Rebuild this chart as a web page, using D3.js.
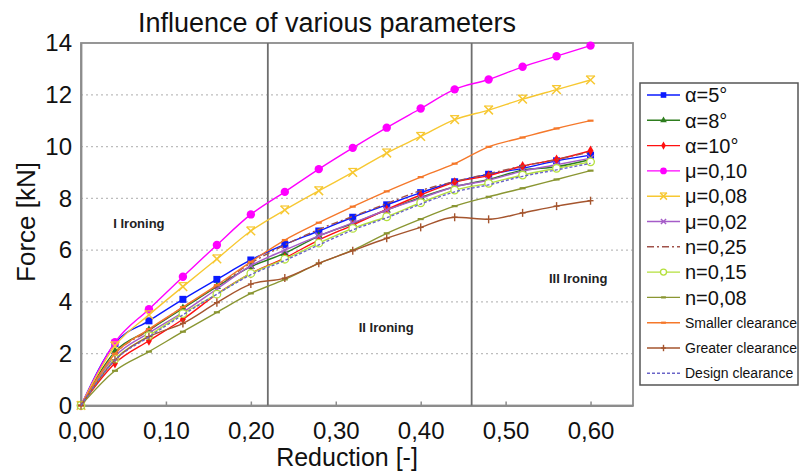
<!DOCTYPE html>
<html>
<head>
<meta charset="utf-8">
<script src="https://cdn.jsdelivr.net/npm/d3@7"></script>
<style>
  body { margin: 0; background: #fff; }
  svg { display: block; font-family: "Liberation Sans", Arial, sans-serif; }
</style>
</head>
<body>
<script>
// reduction steps (x) and force values (kN)
const reduction = [0, 0.04, 0.08, 0.12, 0.16, 0.20, 0.24, 0.28, 0.32, 0.36, 0.40, 0.44, 0.48, 0.52, 0.56, 0.60];
const alpha5   = [0, 2.40, 3.27, 4.10, 4.87, 5.62, 6.22, 6.74, 7.27, 7.75, 8.22, 8.64, 8.93, 9.16, 9.45, 9.67];
const alpha8   = [0, 2.08, 2.91, 3.75, 4.59, 5.36, 5.88, 6.54, 7.03, 7.55, 8.04, 8.45, 8.73, 9.09, 9.22, 9.50];
const alpha10  = [0, 1.63, 2.50, 3.33, 4.30, 5.10, 5.70, 6.39, 6.97, 7.57, 8.13, 8.62, 8.88, 9.25, 9.50, 9.84];
const mu10     = [0, 2.44, 3.72, 4.97, 6.20, 7.38, 8.25, 9.13, 9.95, 10.73, 11.47, 12.21, 12.59, 13.08, 13.49, 13.90];
const mu08     = [0, 2.30, 3.50, 4.59, 5.66, 6.74, 7.55, 8.29, 9.00, 9.75, 10.39, 11.04, 11.41, 11.83, 12.20, 12.57];
const mu02     = [0, 1.90, 2.80, 3.60, 4.50, 5.40, 6.00, 6.55, 7.05, 7.55, 8.00, 8.45, 8.70, 9.05, 9.30, 9.55];
const n25      = [0, 2.00, 2.90, 3.80, 4.60, 5.50, 6.20, 6.80, 7.30, 7.80, 8.30, 8.65, 8.95, 9.25, 9.50, 9.80];
const n15      = [0, 1.80, 2.70, 3.55, 4.30, 5.10, 5.65, 6.27, 6.84, 7.29, 7.83, 8.32, 8.58, 8.90, 9.16, 9.41];
const n08      = [0, 1.34, 2.08, 2.85, 3.60, 4.33, 4.87, 5.49, 6.00, 6.65, 7.20, 7.70, 8.06, 8.39, 8.73, 9.07];
const smaller  = [0, 2.00, 2.95, 3.80, 4.65, 5.55, 6.39, 7.06, 7.68, 8.27, 8.82, 9.34, 9.99, 10.35, 10.70, 11.00];
const greater  = [0, 1.76, 2.66, 3.17, 3.97, 4.69, 4.92, 5.49, 5.98, 6.46, 6.88, 7.27, 7.19, 7.44, 7.70, 7.91];
const design   = [0, 1.75, 2.65, 3.50, 4.30, 5.05, 5.60, 6.20, 6.78, 7.25, 7.78, 8.25, 8.52, 8.85, 9.10, 9.35];

const xTicks = [0, 0.1, 0.2, 0.3, 0.4, 0.5, 0.6];
const yTicks = [0, 2, 4, 6, 8, 10, 12, 14];
const stageLines = [0.22, 0.46];
const stageLabels = [
  { text: 'I Ironing', x: 0.038, y: 6.85 },
  { text: 'II Ironing', x: 0.327, y: 2.85 },
  { text: 'III Ironing', x: 0.551, y: 4.75 }
];

const series = [
  { name: 'α=5°',  values: alpha5,  color: '#0a1aff', marker: 'square', big: true },
  { name: 'α=8°',  values: alpha8,  color: '#2e7d1e', marker: 'triangle', big: true },
  { name: 'α=10°', values: alpha10, color: '#ff1010', marker: 'diamond', big: true },
  { name: 'μ=0,10', values: mu10,   color: '#ff00ff', marker: 'circle', big: true },
  { name: 'μ=0,08', values: mu08,   color: '#f7c832', marker: 'asterisk', big: true },
  { name: 'μ=0,02', values: mu02,   color: '#a55cc8', marker: 'cross', big: true },
  { name: 'n=0,25', values: n25,    color: '#a0524a', marker: 'none', dash: '7,3,2,3', big: true },
  { name: 'n=0,15', values: n15,    color: '#b4e03c', marker: 'ring', big: true },
  { name: 'n=0,08', values: n08,    color: '#8a9632', marker: 'dash', big: true },
  { name: 'Smaller clearance', values: smaller, color: '#f5782a', marker: 'dash' },
  { name: 'Greater clearance', values: greater, color: '#a5552e', marker: 'plus' },
  { name: 'Design clearance',  values: design,  color: '#6a64c8', marker: 'none', dash: '3,2' }
];

const W = 800, H = 474;
const svg = d3.select('body').append('svg').attr('width', W).attr('height', H);

const x = d3.scaleLinear().domain([0, 0.65]).range([81, 633]);
const y = d3.scaleLinear().domain([0, 14]).range([405.5, 43]);

// title
svg.append('text').attr('x', 327).attr('y', 32).attr('text-anchor', 'middle')
   .attr('font-size', 27).attr('fill', '#111').text('Influence of various parameters');

// grid
svg.append('g').selectAll('line').data(yTicks.filter(d => d > 0 && d < 14)).enter().append('line')
   .attr('x1', x(0)).attr('x2', x(0.65)).attr('y1', d => y(d)).attr('y2', d => y(d))
   .attr('stroke', '#bdbdbd').attr('stroke-width', 1.2).attr('stroke-dasharray', '2,3');

// frame
svg.append('rect').attr('x', x(0)).attr('y', y(14)).attr('width', x(0.65) - x(0)).attr('height', y(0) - y(14))
   .attr('fill', 'none').attr('stroke', '#8c8c8c').attr('stroke-width', 1.8);

// axes
const xAxis = d3.axisBottom(x).tickValues(xTicks).tickSizeInner(-4).tickSizeOuter(0).tickPadding(16)
  .tickFormat(d => d3.format('.2f')(d).replace('.', ','));
const gx = svg.append('g').attr('transform', `translate(0,${y(0)})`).call(xAxis);
gx.select('.domain').attr('stroke', '#8c8c8c').attr('stroke-width', 1.8);
gx.selectAll('.tick line').attr('stroke', '#8c8c8c').attr('stroke-width', 1.5);
gx.selectAll('text').attr('font-size', 24).attr('fill', '#111').attr('font-family', 'Liberation Sans, Arial, sans-serif');

const yAxis = d3.axisLeft(y).tickValues(yTicks).tickSize(0).tickPadding(9);
const gy = svg.append('g').attr('transform', `translate(${x(0)},0)`).call(yAxis);
gy.select('.domain').attr('stroke', '#8c8c8c').attr('stroke-width', 1.8);
gy.selectAll('text').attr('font-size', 24).attr('fill', '#111').attr('font-family', 'Liberation Sans, Arial, sans-serif');

svg.append('text').attr('x', 347).attr('y', 466).attr('text-anchor', 'middle')
   .attr('font-size', 25).attr('fill', '#111').text('Reduction [-]');
svg.append('text').attr('transform', 'translate(35,222) rotate(-90)').attr('text-anchor', 'middle')
   .attr('font-size', 26).attr('fill', '#111').text('Force [kN]');

// stage separators
svg.append('g').selectAll('line').data(stageLines).enter().append('line')
   .attr('x1', d => x(d)).attr('x2', d => x(d)).attr('y1', y(14)).attr('y2', y(0))
   .attr('stroke', '#6e6e6e').attr('stroke-width', 1.8);

svg.append('g').selectAll('text').data(stageLabels).enter().append('text')
   .attr('x', d => x(d.x)).attr('y', d => y(d.y))
   .attr('font-size', 13).attr('font-weight', 'bold').attr('fill', '#222').text(d => d.text);

// markers
function drawMarker(g, type, color, cx, cy, s) {
  s = s || 1;
  if (type === 'square') {
    g.append('rect').attr('x', cx - 3.5 * s).attr('y', cy - 3.5 * s).attr('width', 7 * s).attr('height', 7 * s).attr('fill', color);
  } else if (type === 'triangle') {
    g.append('path').attr('d', d3.symbol(d3.symbolTriangle, 30 * s * s)()).attr('transform', `translate(${cx},${cy})`).attr('fill', color);
  } else if (type === 'diamond') {
    g.append('path').attr('d', d3.symbol(d3.symbolDiamond, 30 * s * s)()).attr('transform', `translate(${cx},${cy})`).attr('fill', color);
  } else if (type === 'circle') {
    g.append('circle').attr('cx', cx).attr('cy', cy).attr('r', 4.2 * s).attr('fill', color);
  } else if (type === 'ring') {
    g.append('circle').attr('cx', cx).attr('cy', cy).attr('r', 3.8 * s).attr('fill', '#fff').attr('stroke', color).attr('stroke-width', 1.3);
  } else if (type === 'asterisk') {
    g.append('path').attr('d', d3.symbol(d3.symbolTimes, 50 * s * s)()).attr('transform', `translate(${cx},${cy})`)
     .attr('fill', 'none').attr('stroke', color).attr('stroke-width', 1.5);
    g.append('line').attr('x1', cx - 4 * s).attr('x2', cx + 4 * s).attr('y1', cy - 4 * s).attr('y2', cy - 4 * s).attr('stroke', color).attr('stroke-width', 1.2);
  } else if (type === 'cross') {
    g.append('path').attr('d', d3.symbol(d3.symbolTimes, 30 * s * s)()).attr('transform', `translate(${cx},${cy})`)
     .attr('fill', 'none').attr('stroke', color).attr('stroke-width', 1.4);
  } else if (type === 'dash') {
    g.append('line').attr('x1', cx - 3 * s).attr('x2', cx + 3 * s).attr('y1', cy).attr('y2', cy).attr('stroke', color).attr('stroke-width', 2.2);
  } else if (type === 'plus') {
    g.append('line').attr('x1', cx).attr('x2', cx).attr('y1', cy - 4 * s).attr('y2', cy + 4 * s).attr('stroke', color).attr('stroke-width', 1.4);
    g.append('line').attr('x1', cx - 3 * s).attr('x2', cx + 3 * s).attr('y1', cy).attr('y2', cy).attr('stroke', color).attr('stroke-width', 1.4);
  }
}

const line = d3.line().x((d, i) => x(reduction[i])).y(d => y(d)).curve(d3.curveMonotoneX);
const plot = svg.append('g');
series.forEach(s => {
  plot.append('path').datum(s.values).attr('d', line)
      .attr('fill', 'none').attr('stroke', s.color).attr('stroke-width', 1.4)
      .attr('stroke-dasharray', s.dash || null);
  const mg = plot.append('g');
  s.values.forEach((v, i) => drawMarker(mg, s.marker, s.color, x(reduction[i]), y(v)));
});

// legend
const lg = svg.append('g');
lg.append('rect').attr('x', 640).attr('y', 83).attr('width', 158).attr('height', 302)
  .attr('fill', '#fff').attr('stroke', '#555').attr('stroke-width', 1.5);
series.forEach((s, i) => {
  const ly = 95 + i * 25.3;
  lg.append('line').attr('x1', 647).attr('x2', 680).attr('y1', ly).attr('y2', ly)
    .attr('stroke', s.color).attr('stroke-width', 1.4).attr('stroke-dasharray', s.dash || null);
  drawMarker(lg, s.marker, s.color, 663.5, ly, 0.8);
  lg.append('text').attr('x', 685).attr('y', ly).attr('dy', '0.36em')
    .attr('font-size', s.big ? 20 : 14).attr('fill', '#111').text(s.name);
});
</script>
</body>
</html>
